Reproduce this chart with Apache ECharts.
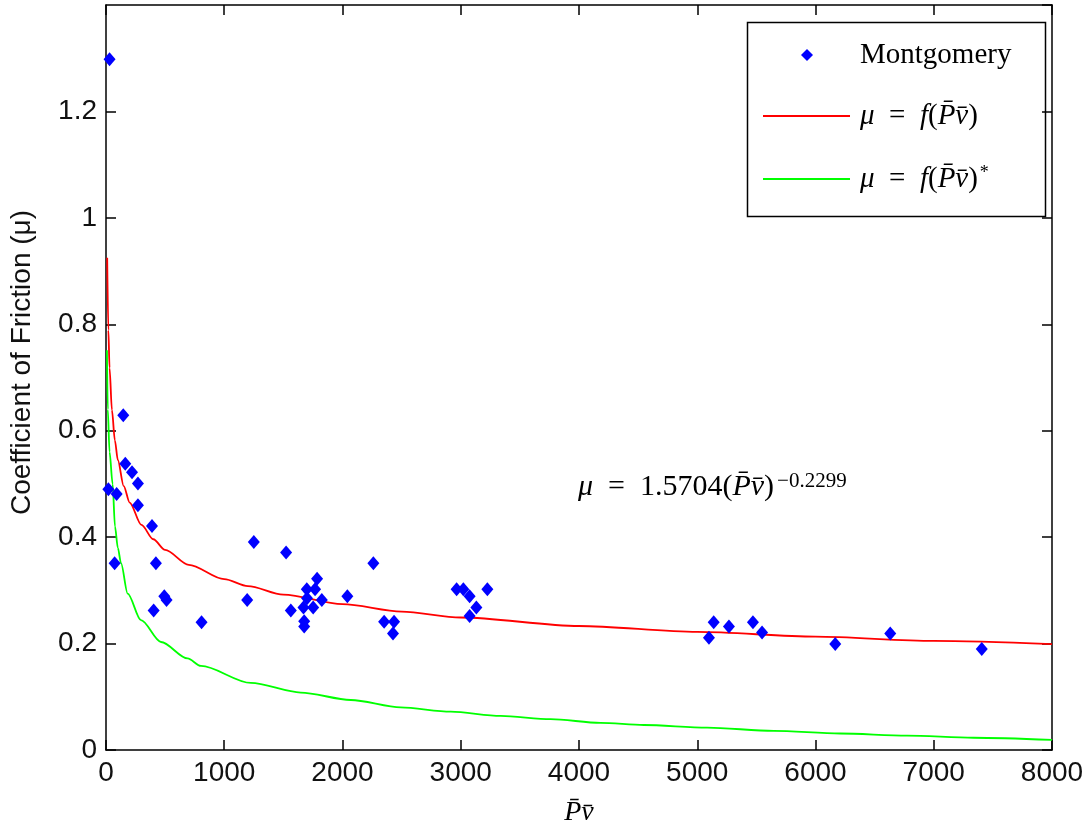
<!DOCTYPE html>
<html>
<head>
<meta charset="utf-8">
<script src="https://cdn.jsdelivr.net/npm/echarts@6/dist/echarts.min.js"></script>
<style>
html,body{margin:0;padding:0;background:#fff;}
#chart{width:1089px;height:836px;}
</style>
</head>
<body>
<div id="chart"></div>
<script>
// Montgomery data points
var montX = [30, 146, 163, 220, 270, 20, 90, 270, 389, 1250, 1523, 73, 422, 493, 512, 1194, 1563, 403, 808,
             2261, 1785, 1698, 1768, 1700, 1825, 1670, 1752, 1676, 1676, 2041, 2352, 2436, 2427,
             2965, 3022, 3075, 3132, 3075, 3225, 5139, 5099, 5268, 5471, 5548, 6167, 6632, 7406];
var montY = [1.298, 0.629, 0.538, 0.522, 0.501, 0.490, 0.481, 0.460, 0.421, 0.391, 0.371, 0.351, 0.351, 0.289, 0.282, 0.282, 0.262, 0.262, 0.240,
             0.351, 0.322, 0.302, 0.302, 0.285, 0.282, 0.268, 0.268, 0.242, 0.232, 0.289, 0.241, 0.241, 0.219,
             0.302, 0.302, 0.289, 0.268, 0.252, 0.302, 0.240, 0.211, 0.232, 0.240, 0.221, 0.199, 0.219, 0.190];

// red curve
var redX = [10, 20, 30, 50, 75, 100, 150, 200, 300, 400, 500, 700, 1000, 1200, 1500, 2000, 2500, 3000, 4000, 5000, 6000, 7000, 8000];
var redY = [0.925, 0.789, 0.718, 0.639, 0.582, 0.545, 0.496, 0.465, 0.423, 0.396, 0.376, 0.348, 0.321, 0.308, 0.292, 0.274, 0.260, 0.249, 0.233, 0.222, 0.213, 0.205, 0.199];

// green curve
var greenX = [8, 15, 30, 56, 76, 100, 127, 183, 296, 465, 690, 803, 1225, 1647, 2070, 2492, 2915, 3337, 3760, 4182, 4548, 5083, 5646, 6209, 6773, 7336, 8000];
var greenY = [0.751, 0.640, 0.560, 0.500, 0.420, 0.380, 0.351, 0.294, 0.244, 0.203, 0.172, 0.158, 0.126, 0.108, 0.094, 0.080, 0.072, 0.064, 0.058, 0.051, 0.047, 0.042, 0.036, 0.031, 0.027, 0.023, 0.019];

var xTicks = [0, 1000, 2000, 3000, 4000, 5000, 6000, 7000, 8000];
var yTicks = [0, 0.2, 0.4, 0.6, 0.8, 1, 1.2];

var nameMont = 'Montgomery';
var nameRed = 'μ = f(P̄v̄)';
var nameGreen = 'μ = f(P̄v̄)*';

function zip(a, b) { return a.map(function (v, i) { return [v, b[i]]; }); }

var chart = echarts.init(document.getElementById('chart'), null, {renderer: 'canvas'});

var serif = '"Liberation Serif", "DejaVu Serif", serif';
var sans = '"Liberation Sans", Arial, sans-serif';

var legendRich = {
  it: {fontFamily: serif, fontStyle: 'italic', fontSize: 29, color: '#000', lineHeight: 30},
  n: {fontFamily: serif, fontSize: 29, color: '#000', lineHeight: 30},
  sup: {fontFamily: serif, fontSize: 18, color: '#000', verticalAlign: 'top', lineHeight: 30, padding: [0, 0, 14, 2]}
};
var eqRich = {
  it: {fontFamily: serif, fontStyle: 'italic', fontSize: 30, color: '#000', lineHeight: 32},
  n: {fontFamily: serif, fontSize: 30, color: '#000', lineHeight: 32},
  sup: {fontFamily: serif, fontSize: 21, color: '#000', verticalAlign: 'top', lineHeight: 32, padding: [0, 0, 12, 3]}
};

var axisCommon = {
  type: 'value',
  axisLine: {show: true, onZero: false, lineStyle: {color: '#000', width: 1.5}},
  axisTick: {show: true, inside: true, length: 10, lineStyle: {color: '#000', width: 1.5}},
  splitLine: {show: false}
};

var option = {
  backgroundColor: '#fff',
  animation: false,
  grid: {left: 105, right: 37, top: 5, bottom: 86, containLabel: false},
  xAxis: [
    Object.assign({}, axisCommon, {
      min: 0, max: 8000, interval: 1000, position: 'bottom',
      axisLabel: {show: true, fontFamily: sans, fontSize: 28, color: '#111', margin: 9,
        formatter: function (v) { return xTicks.indexOf(v) >= 0 ? String(v) : ''; }},
      name: 'P̄v̄', nameLocation: 'middle', nameGap: 49,
      nameTextStyle: {fontFamily: serif, fontStyle: 'italic', fontSize: 28, color: '#000'}
    }),
    Object.assign({}, axisCommon, {
      min: 0, max: 8000, interval: 1000, position: 'top', axisLabel: {show: false}
    })
  ],
  yAxis: [
    Object.assign({}, axisCommon, {
      min: 0, max: 1.4, interval: 0.2, position: 'left',
      axisLabel: {show: true, fontFamily: sans, fontSize: 28, color: '#111', margin: 9, showMaxLabel: false,
        formatter: function (v) {
          var r = Math.round(v * 10) / 10;
          return yTicks.indexOf(r) >= 0 ? String(r) : '';
        }},
      name: 'Coefficient of Friction (μ)', nameLocation: 'middle', nameGap: 70,
      nameTextStyle: {fontFamily: sans, fontSize: 28, color: '#111', padding: [0, 0, 0, 30]}
    }),
    Object.assign({}, axisCommon, {
      min: 0, max: 1.4, interval: 0.2, position: 'right', axisLabel: {show: false}
    })
  ],
  legend: [
    {
      orient: 'vertical', left: 801, top: 40,
      itemWidth: 12, itemHeight: 12, icon: 'diamond', padding: 0,
      data: [nameMont],
      textStyle: {fontFamily: serif, fontSize: 29, color: '#000', lineHeight: 30, padding: [0, 0, 0, 42], rich: legendRich},
      formatter: function () { return '{n|Montgomery}'; }
    },
    {
      orient: 'vertical', left: 763, top: 101,
      itemWidth: 87, itemHeight: 2, icon: 'rect', itemGap: 33, padding: 0,
      data: [nameRed, nameGreen],
      textStyle: {fontFamily: serif, fontSize: 29, color: '#000', lineHeight: 30, padding: [0, 0, 0, 5], rich: legendRich},
      formatter: function (name) {
        if (name === nameRed) return '{it|μ}{n|  =  }{it|f}{n|(}{it|P̄v̄}{n|)}';
        return '{it|μ}{n|  =  }{it|f}{n|(}{it|P̄v̄}{n|)}{sup|*}';
      }
    }
  ],
  graphic: [
    {type: 'rect', left: 745, top: 20, z: 100, silent: true,
     shape: {width: 298, height: 194},
     style: {fill: 'none', stroke: '#000', lineWidth: 1.5}},
    {type: 'text', left: 578, top: 471, z: 100, silent: true,
     style: {
       text: '{it|μ}{n|  =  1.5704(}{it|P̄v̄}{n|)}{sup|−0.2299}',
       rich: eqRich
     }}
  ],
  series: [
    {name: nameMont, type: 'scatter', data: zip(montX, montY), symbol: 'diamond', symbolSize: [12, 14],
     itemStyle: {color: '#0000ff', opacity: 1}, z: 3},
    {name: nameRed, type: 'line', data: zip(redX, redY), symbol: 'none', smooth: 0.3, smoothMonotone: 'x',
     lineStyle: {color: '#ff0000', width: 1.8}, itemStyle: {color: '#ff0000'}, z: 2},
    {name: nameGreen, type: 'line', data: zip(greenX, greenY), symbol: 'none', smooth: 0.3, smoothMonotone: 'x',
     lineStyle: {color: '#00ff00', width: 1.8}, itemStyle: {color: '#00ff00'}, z: 2}
  ]
};
chart.setOption(option);
</script>
</body>
</html>
